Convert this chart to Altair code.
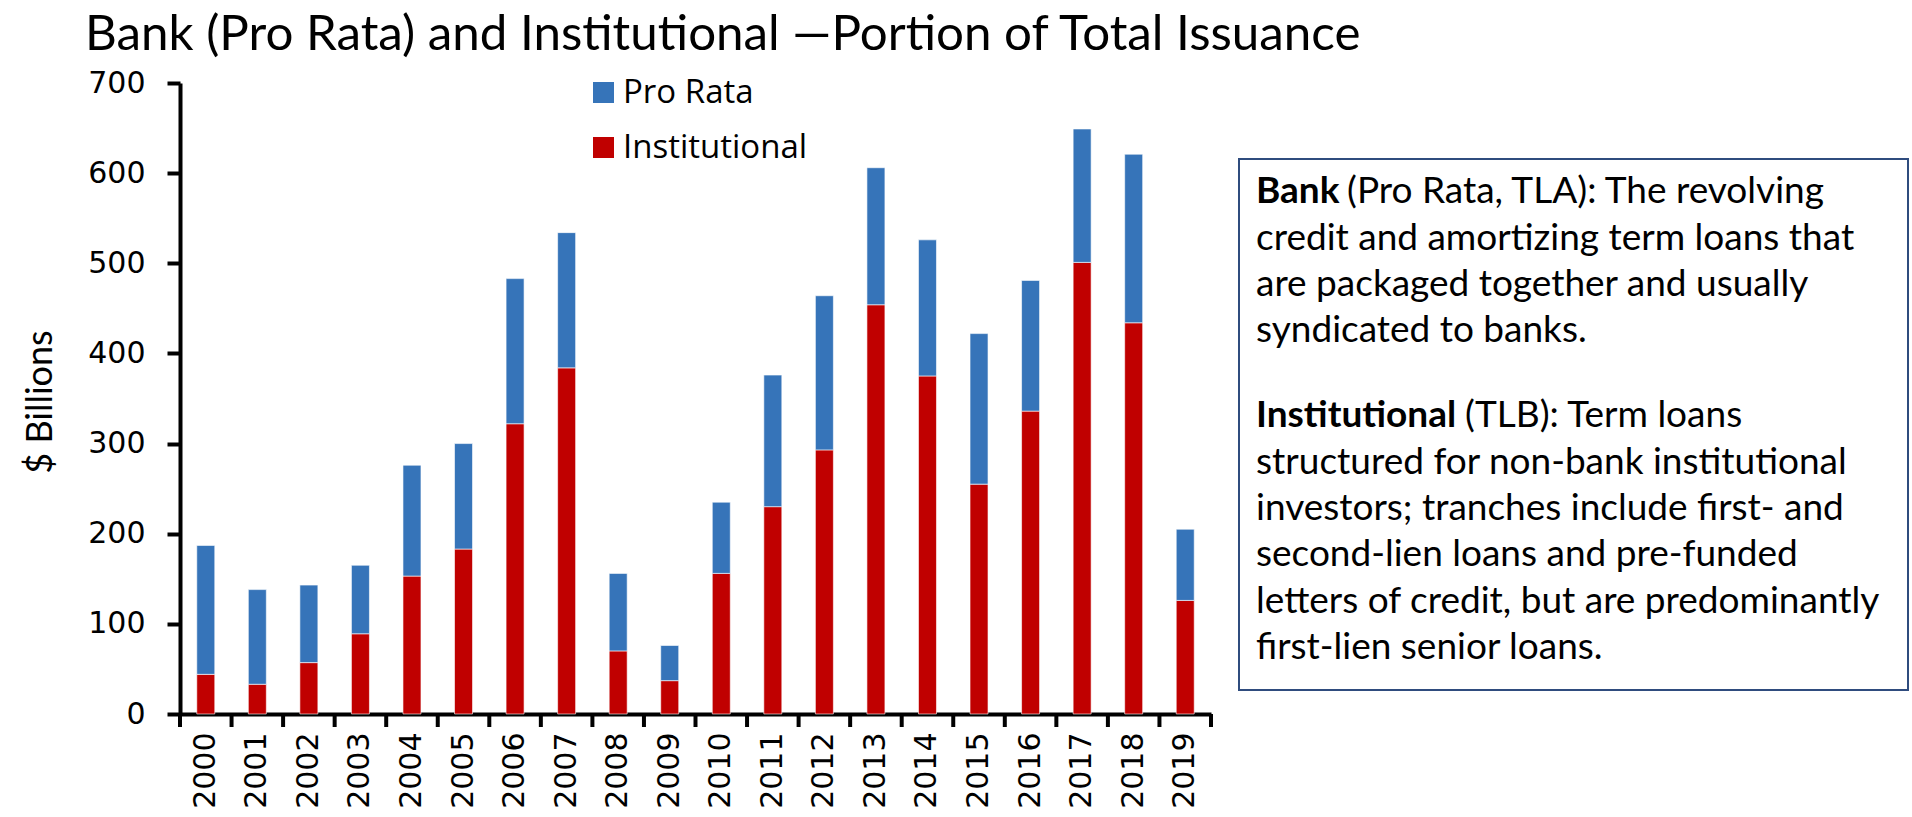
import altair as alt
import pandas as pd

years = ["2000", "2001", "2002", "2003", "2004", "2005", "2006", "2007", "2008", "2009",
         "2010", "2011", "2012", "2013", "2014", "2015", "2016", "2017", "2018", "2019"]
institutional = [44, 33, 57, 89, 153, 183, 322, 384, 70, 37, 156, 230, 293, 454, 375, 255, 336, 501, 434, 126]
pro_rata = [143, 105, 86, 76, 123, 117, 161, 150, 86, 39, 79, 146, 171, 152, 151, 167, 145, 148, 187, 79]
series_names = ["Pro Rata", "Institutional"]
series_colors = ["#3674B9", "#C00000"]
y_ticks = [0, 100, 200, 300, 400, 500, 600, 700]

title_text = "Bank (Pro Rata) and Institutional \u2014Portion of Total Issuance"
y_title = "$ Billions"
bank_bold = "Bank"
bank_first = "(Pro Rata, TLA): The revolving"
bank_rest = ["credit and amortizing term loans that",
             "are packaged together and usually",
             "syndicated to banks."]
inst_bold = "Institutional"
inst_first = "(TLB): Term loans"
inst_rest = ["structured for non-bank institutional",
             "investors; tranches include first- and",
             "second-lien loans and pre-funded",
             "letters of credit, but are predominantly",
             "first-lien senior loans."]

rows = []
for i, y in enumerate(years):
    rows.append({"Year": y, "Series": "Institutional", "Value": institutional[i], "ord": 0})
    rows.append({"Year": y, "Series": "Pro Rata", "Value": pro_rata[i], "ord": 1})
df = pd.DataFrame(rows)

W, H = 1031, 631
BODY_FONT = "Lato"
one = pd.DataFrame({"a": [0]})

bars = alt.Chart(df).mark_bar(size=18, stroke="white", strokeWidth=1, strokeOpacity=0.6).encode(
    x=alt.X("Year:N", sort=years, scale=alt.Scale(paddingInner=0, paddingOuter=0),
            axis=alt.Axis(title=None, labelAngle=270, labelFont="DejaVu Sans", labelFontSize=30,
                          labelColor="black", labelPadding=5, tickSize=13, tickOpacity=0,
                          domainColor="black", domainWidth=4)),
    y=alt.Y("Value:Q", stack="zero", scale=alt.Scale(domain=[0, 700], nice=False),
            axis=alt.Axis(values=y_ticks, title=None, labelFont="DejaVu Sans", labelFontSize=30,
                          labelColor="black", labelPadding=22, tickSize=13, tickWidth=4,
                          tickColor="black", domainColor="black", domainWidth=4, grid=False)),
    color=alt.Color("Series:N", scale=alt.Scale(domain=series_names, range=series_colors),
                    legend=alt.Legend(orient="none", legendX=407, legendY=-7, title=None,
                                      symbolType="square", symbolSize=441, symbolStrokeWidth=0,
                                      labelFont="Open Sans", labelFontSize=33, labelOffset=3,
                                      rowPadding=21, labelColor="black", labelLimit=600)),
    order=alt.Order("ord:Q"),
)

xticks = alt.Chart(pd.DataFrame({"Year": years})).mark_rule(color="black", strokeWidth=4).encode(
    x=alt.X("Year:N", sort=years, bandPosition=0),
    y=alt.value(H), y2=alt.value(H + 13),
)
end_tick = alt.Chart(one).mark_rule(color="black", strokeWidth=4).encode(
    x=alt.value(W), y=alt.value(H), y2=alt.value(H + 13))

title = alt.Chart(one).mark_text(text=title_text, font=BODY_FONT, fontSize=49.3, align="left",
                                 baseline="alphabetic", color="black").encode(
    x=alt.value(-95), y=alt.value(-33))

ytitle = alt.Chart(one).mark_text(text=y_title, font=BODY_FONT, fontSize=36, align="center",
                                  baseline="middle", angle=270, color="black").encode(
    x=alt.value(-139), y=alt.value(319))

box = alt.Chart(one).mark_rect(fill="white", stroke="#2F4C7E", strokeWidth=2).encode(
    x=alt.value(1059), x2=alt.value(1728), y=alt.value(76), y2=alt.value(607))

FS = 37
LH = 46.4
def txt(text, x, y, bold=False):
    return alt.Chart(one).mark_text(text=text, font=BODY_FONT, fontSize=FS, align="left",
                                    baseline="alphabetic", color="black", lineHeight=LH,
                                    fontWeight="bold" if bold else "normal").encode(
        x=alt.value(x), y=alt.value(y))

t1 = txt(bank_bold, 1076, 120, True)
t2 = txt(bank_first, 1167, 120)
t3 = txt(bank_rest, 1076, 166.5)
t4 = txt(inst_bold, 1076, 344, True)
t5 = txt(inst_first, 1285, 344)
t6 = txt(inst_rest, 1076, 390.5)

chart = alt.layer(bars, xticks, end_tick, title, ytitle, box, t1, t2, t3, t4, t5, t6).properties(
    width=W, height=H,
    autosize=alt.AutoSizeParams(type="none"),
    padding={"left": 180, "top": 83, "right": 701, "bottom": 103},
).configure_view(stroke="transparent")

chart.save("out.html", embed_options={"renderer": "svg", "actions": False})
